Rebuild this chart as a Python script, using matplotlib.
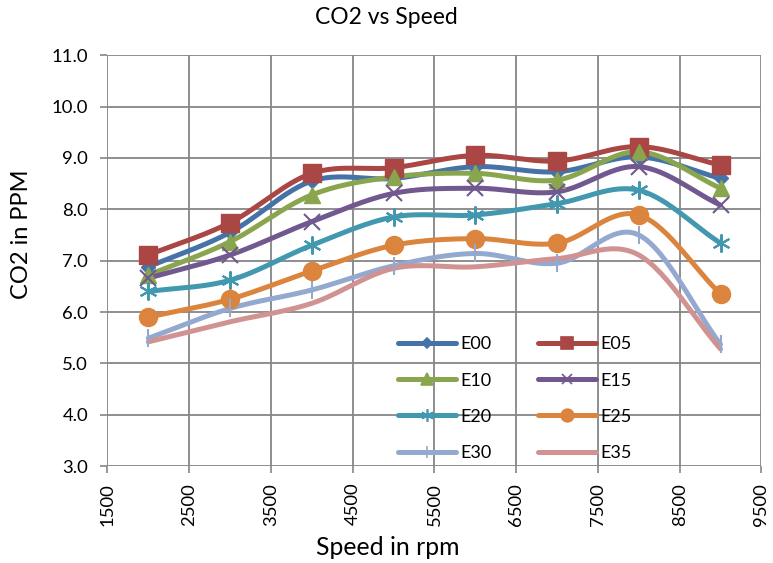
import numpy as np
import matplotlib
matplotlib.use('Agg')
import matplotlib.pyplot as plt

plt.rcParams['font.family'] = ['Lato', 'DejaVu Sans']

# data
speed = [2000, 3000, 4000, 5000, 6000, 7000, 8000, 9000]
series_names = ['E00', 'E05', 'E10', 'E15', 'E20', 'E25', 'E30', 'E35']
e00 = [6.88, 7.55, 8.55, 8.60, 8.83, 8.73, 9.02, 8.60]
e05 = [7.11, 7.74, 8.70, 8.81, 9.05, 8.94, 9.22, 8.86]
e10 = [6.72, 7.37, 8.28, 8.63, 8.70, 8.57, 9.12, 8.41]
e15 = [6.66, 7.11, 7.76, 8.31, 8.41, 8.34, 8.83, 8.08]
e20 = [6.40, 6.62, 7.30, 7.85, 7.89, 8.11, 8.37, 7.34]
e25 = [5.90, 6.25, 6.80, 7.30, 7.43, 7.34, 7.89, 6.35]
e30 = [5.49, 6.07, 6.43, 6.90, 7.14, 6.95, 7.50, 5.37]
e35 = [5.42, 5.81, 6.17, 6.85, 6.88, 7.04, 7.11, 5.28]

colors = ['#4572A7', '#AA4643', '#89A54E', '#71588F', '#4198AF', '#DB843D', '#93A9CF', '#D19392']
markers = ['D', 's', '^', 'x', (6, 2, 0), 'o', '|', None]
msizes = [7, 13, 12, 11, 13, 13, 13, 0]


def smooth(x, y, n=30):
    # catmull-rom style smoothing like excel's smoothed line
    x = np.asarray(x, float)
    y = np.asarray(y, float)
    px = np.concatenate([[2 * x[0] - x[1]], x, [2 * x[-1] - x[-2]]])
    py = np.concatenate([[2 * y[0] - y[1]], y, [2 * y[-1] - y[-2]]])
    xs, ys = [], []
    t = np.linspace(0, 1, n)
    for i in range(1, len(px) - 2):
        for arr, out in ((px, xs), (py, ys)):
            p0, p1, p2, p3 = arr[i - 1:i + 3]
            m1 = (p2 - p0) / 2
            m2 = (p3 - p1) / 2
            h = (2 * t**3 - 3 * t**2 + 1) * p1 + (t**3 - 2 * t**2 + t) * m1 \
                + (-2 * t**3 + 3 * t**2) * p2 + (t**3 - t**2) * m2
            out.extend(h)
    return xs, ys


fig = plt.figure(figsize=(7.73, 5.63), dpi=100)
ax = fig.add_axes([0.139, 0.172, 0.846, 0.730])

data = [e00, e05, e10, e15, e20, e25, e30, e35]
handles = []
for name, vals, c, m, ms in zip(series_names, data, colors, markers, msizes):
    sx, sy = smooth(speed, vals)
    ax.plot(sx, sy, color=c, lw=3.6, solid_capstyle='round', zorder=3)
    if m is not None:
        ax.plot(speed, vals, ls='none', marker=m, ms=ms, color=c,
                mec=c, mew=1.5 if m in ('x', '|', (6, 2, 0)) else 1, zorder=4)
    h, = ax.plot([], [], color=c, lw=3.6, marker=m, ms=ms * 0.7 if ms else 0,
                 mew=1.2, solid_capstyle='round', label=name)
    handles.append(h)

ax.set_xlim(1500, 9500)
ax.set_ylim(3.0, 11.0)
ax.set_xticks(np.arange(1500, 9501, 1000))
ax.set_yticks(np.arange(3.0, 11.01, 1.0))
ax.set_yticklabels(['%.1f' % v for v in np.arange(3.0, 11.01, 1.0)])
plt.setp(ax.get_xticklabels(), rotation=90)
ax.tick_params(labelsize=13.3, color='#868686', length=5, width=1.2)
ax.tick_params(axis='y', pad=9)
ax.tick_params(axis='x', pad=7)
ax.grid(True, color='#868686', lw=1.3)
ax.set_axisbelow(True)
for s in ax.spines.values():
    s.set_visible(False)

fig.text(386 / 773, 1 - 18 / 563, 'CO2 vs Speed', fontsize=16.5, ha='center', va='center')
ax.set_xlabel('Speed in rpm', fontsize=17.8)
ax.set_ylabel('CO2 in PPM', fontsize=17)
ax.xaxis.set_label_coords((388 - 107.7) / 653.3, (466 - 547) / 411)
ax.yaxis.set_label_coords((22 - 107.7) / 653.3, (466 - 234) / 411)
ax.xaxis.label.set_va('center')
ax.yaxis.label.set_va('center')

# row-wise order like the excel legend
order = [0, 2, 4, 6, 1, 3, 5, 7]
ax.legend([handles[i] for i in order], [series_names[i] for i in order],
          ncol=2, loc='upper left', bbox_to_anchor=(0.444, 0.316), frameon=False,
          borderpad=0, borderaxespad=0, fontsize=13, handlelength=3.2,
          columnspacing=2.6, labelspacing=1.12, handletextpad=0.25)

fig.savefig('out.png', dpi=100)
